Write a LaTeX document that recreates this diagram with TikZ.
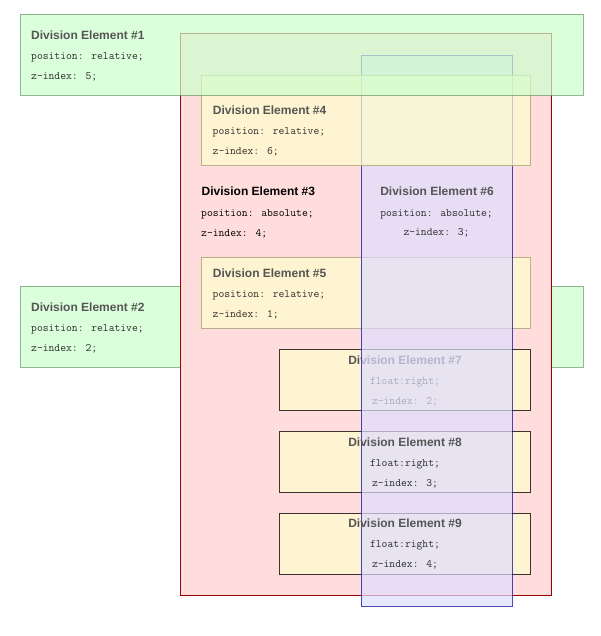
\documentclass[tikz,border=0pt]{standalone}
\usepackage{fontspec}
\newfontfamily\titlefont{Liberation Sans}
\definecolor{gfill}{RGB}{204,255,204}
\definecolor{gdraw}{RGB}{102,153,102}
\definecolor{pfill}{RGB}{255,221,221}
\definecolor{pdraw}{RGB}{153,0,0}
\definecolor{yfill}{RGB}{255,255,204}
\definecolor{ydraw}{RGB}{153,153,102}
\definecolor{bfill}{RGB}{221,221,255}
\definecolor{bdraw}{RGB}{0,0,153}
\definecolor{fdraw}{RGB}{60,50,50}
\definecolor{ttlgray}{RGB}{85,85,85}
\definecolor{codegray}{RGB}{45,45,45}
\tikzset{
  gbox/.style={fill=gfill, draw=gdraw, fill opacity=0.7, draw opacity=0.7, line width=1pt},
  pbox/.style={fill=pfill, draw=pdraw, line width=1pt},
  ybox/.style={fill=yfill, draw=ydraw, fill opacity=0.7, draw opacity=0.7, line width=1pt},
  fbox/.style={fill=yfill, draw=fdraw, fill opacity=0.7, line width=1pt},
  bbox/.style={fill=bfill, draw=bdraw, fill opacity=0.7, draw opacity=0.7, line width=1pt},
  ttl/.style={inner sep=0, anchor=base west, text=ttlgray, font=\titlefont\bfseries\fontsize{12}{14}\selectfont},
  code/.style={inner sep=0, anchor=base west, text=codegray, font=\ttfamily\fontsize{11.3}{13}\selectfont},
  ctr/.style={anchor=base},
}
\begin{document}
\begin{tikzpicture}[x=1pt,y=-1pt]
\useasboundingbox (0,0) rectangle (600,636);
% Div2
\path[gbox] (20.3,286.3) rectangle (583.3,367.3);
\node[ttl] (t2) at (31,311) {Division Element \#2};
\node[code] (a2) at (31,331) {position: relative;};
\node[code] (b2) at (31,351) {z-index: 2;};
% Div3
\path[pbox] (180.3,34) rectangle (551.3,595.3);
\node[ttl, text=black] (t3) at (201.5,196) {Division Element \#3};
\node[code, text=black] (a3) at (201,216.5) {position: absolute;};
\node[code, text=black] (b3) at (201,236.3) {z-index: 4;};
% floats
\path[fbox] (279.3,349.3) rectangle (530.3,410.3);
\path[fbox] (279.3,431.3) rectangle (530.3,492.3);
\path[fbox] (279.3,513.3) rectangle (530.3,574.3);
\node[ttl, ctr] (t7) at (405,364.3) {Division Element \#7};
\node[code, ctr] (a7) at (405,384.3) {float:right;};
\node[code, ctr] (b7) at (405,404.3) {z-index: 2;};
% Div5
\path[ybox] (201,257.7) rectangle (530.7,328.3);
\node[ttl] (t5) at (212.7,277.3) {Division Element \#5};
\node[code] (a5) at (212.5,297.3) {position: relative;};
\node[code] (b5) at (212.5,317) {z-index: 1;};
% Div6
\path[bbox] (361.3,55.3) rectangle (512.3,606);
\node[ttl, ctr] (t6) at (437,195.5) {Division Element \#6};
\node[code, ctr] (a6) at (436.5,216) {position: absolute;};
\node[code, ctr] (b6) at (436.5,235.8) {z-index: 3;};
\node[ttl, ctr] (t8) at (405,446) {Division Element \#8};
\node[code, ctr] (a8) at (405,466) {float:right;};
\node[code, ctr] (b8) at (405,486) {z-index: 3;};
\node[ttl, ctr] (t9) at (405,527.7) {Division Element \#9};
\node[code, ctr] (a9) at (405,547.7) {float:right;};
\node[code, ctr] (b9) at (405,567.7) {z-index: 4;};
% Div4
\path[ybox] (201.3,75.3) rectangle (530.3,166);
\node[ttl] (t4) at (212.7,115) {Division Element \#4};
\node[code] (a4) at (212.5,135) {position: relative;};
\node[code] (b4) at (212.5,155) {z-index: 6;};
% Div1
\path[gbox] (20.3,14.3) rectangle (583.3,95.3);
\node[ttl] (t1) at (31,39.3) {Division Element \#1};
\node[code] (a1) at (31,59.5) {position: relative;};
\node[code] (b1) at (31,79.3) {z-index: 5;};
\end{tikzpicture}
\end{document}
